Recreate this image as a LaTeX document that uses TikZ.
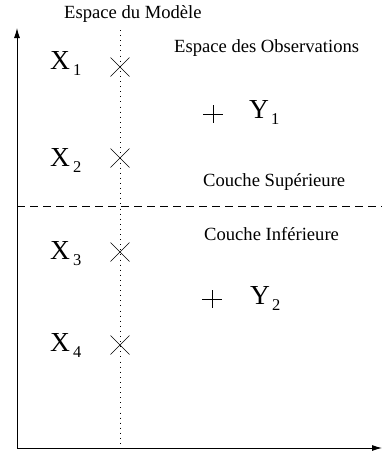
\documentclass[tikz,border=0pt]{standalone}
\usepackage{fontspec}
\setmainfont{Liberation Serif}
\usetikzlibrary{arrows.meta,calc}
\tikzset{
  lbl/.style={inner sep=0pt, anchor=base west, font=\fontsize{18.6}{20}\selectfont},
  var/.style={inner sep=0pt, anchor=base west, font=\fontsize{27.5}{28}\selectfont},
  axis/.style={line width=0.9pt, -{Latex[length=10pt,width=6pt]}},
  markline/.style={line width=0.6pt},
  sub/.style={inner sep=0pt, anchor=base west, font=\fontsize{16.5}{17}\selectfont}
}
\begin{document}
\begin{tikzpicture}[x=1pt,y=-1pt]
\useasboundingbox (0,0) rectangle (382,459);
% axes
\coordinate (O) at (17,448);
\coordinate (top) at (17,28);
\coordinate (right) at (382,448);
\draw[axis] (O) -- (top);
\draw[axis] (O) -- (right);
% dotted model line
\coordinate (dtop) at (120,30);
\coordinate (dbot) at (120,448);
\draw[line width=0.7pt, dash pattern=on 0.9pt off 4.2pt] (dtop) -- (dbot);
% dashed separator
\coordinate (sl) at (17,206);
\coordinate (sr) at (382,206);
\draw[line width=0.7pt, dash pattern=on 8pt off 5pt] (sl) -- (sr);
% texts
\node[lbl] (em) at (64,18) {Espace du Modèle};
\node[lbl] (eo) at (174,52) {Espace des Observations};
\node[lbl] (cs) at (203,186) {Couche Supérieure};
\node[lbl] (ci) at (204,240) {Couche Inférieure};
% X labels
\node[var] (x1) at (50,69) {X};
\node[sub] (x1s) at (73,75) {1};
\node[var] (x2) at (50,166) {X};
\node[sub] (x2s) at (73,172) {2};
\node[var] (x3) at (50,259) {X};
\node[sub] (x3s) at (73,265) {3};
\node[var] (x4) at (50,351) {X};
\node[sub] (x4s) at (73,357) {4};
% Y labels
\node[var] (y1) at (249,118) {Y};
\node[sub] (y1s) at (271,124) {1};
\node[var] (y2) at (250,304) {Y};
\node[sub] (y2s) at (272,310) {2};
% crosses
\coordinate (c1) at (120,67);
\coordinate (c2) at (120,158);
\coordinate (c3) at (120,252);
\coordinate (c4) at (120,345);
\foreach \c in {c1,c2,c3,c4}{
  \draw[markline] ($(\c)+(-9.5,-9.5)$) -- ($(\c)+(9.5,9.5)$);
  \draw[markline] ($(\c)+(-9.5,9.5)$) -- ($(\c)+(9.5,-9.5)$);
}
% plus marks
\coordinate (p1) at (213,114);
\coordinate (p2) at (212,299);
\foreach \p in {p1,p2}{
  \draw[markline] ($(\p)+(-10,0)$) -- ($(\p)+(10,0)$);
  \draw[markline] ($(\p)+(0,-9)$) -- ($(\p)+(0,9)$);
}
\end{tikzpicture}
\end{document}
